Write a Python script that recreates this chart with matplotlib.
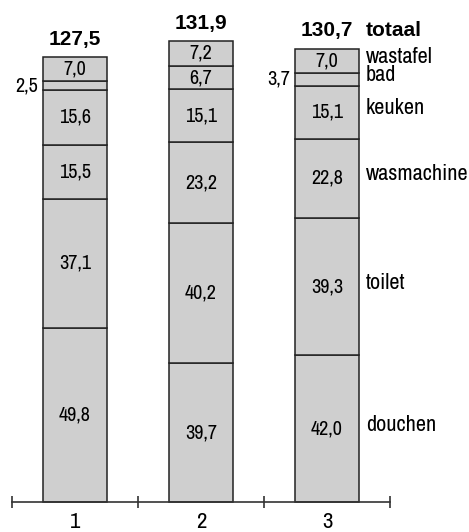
import numpy as np
import matplotlib.pyplot as plt

# data (values per huishouden, liters per persoon per dag)
groups = ['1', '2', '3']
categories = ['douchen', 'toilet', 'wasmachine', 'keuken', 'bad', 'wastafel']
douchen = [49.8, 39.7, 42.0]
toilet = [37.1, 40.2, 39.3]
wasmachine = [15.5, 23.2, 22.8]
keuken = [15.6, 15.1, 15.1]
bad = [2.5, 6.7, 3.7]
wastafel = [7.0, 7.2, 7.0]
totals = ['127,5', '131,9', '130,7']

series = [douchen, toilet, wasmachine, keuken, bad, wastafel]

plt.rcParams['font.family'] = ['Archivo Narrow', 'Liberation Sans', 'DejaVu Sans']
bold_font = ['Liberation Sans', 'DejaVu Sans']

fig = plt.figure(figsize=(4.69, 5.32), dpi=100)
ax = fig.add_axes([0, 0, 1, 1])

x = np.arange(1, len(groups) + 1)
width = 0.51
bottom = np.zeros(len(groups))
for cat, vals in zip(categories, series):
    vals = np.array(vals)
    ax.bar(x, vals, width, bottom=bottom, color='#cfcfcf',
           edgecolor='#222222', linewidth=1.1)
    for i in range(len(groups)):
        mid = bottom[i] + vals[i] / 2
        txt = f'{vals[i]:.1f}'.replace('.', ',')
        if vals[i] < 5:
            # small segment: label at the left of the bar
            ax.text(x[i] - width / 2 - 0.04, mid, txt, ha='right', va='center',
                    fontsize=14.5)
        else:
            ax.text(x[i], mid, txt, ha='center', va='center', fontsize=14.5)
    # category label next to the last bar
    ax.annotate(cat, (x[-1] + width / 2, bottom[-1] + vals[-1] / 2),
                xytext=(5, 3), textcoords='offset points',
                ha='left', va='center', fontsize=16)
    bottom = bottom + vals

for i in range(len(groups)):
    ax.annotate(totals[i], (x[i], bottom[i]), xytext=(0, 6),
                textcoords='offset points', ha='center', va='bottom',
                fontsize=15, fontweight='bold', family=bold_font)
ax.annotate('totaal', (x[-1] + width / 2, bottom[-1]), xytext=(5, 6),
            textcoords='offset points', ha='left', va='bottom',
            fontsize=15, fontweight='bold', family=bold_font)

ax.set_xlim(0.405, 4.127)
ax.set_ylim(-8.6, 143.8)
for s in ['top', 'left', 'right']:
    ax.spines[s].set_visible(False)
ax.spines['bottom'].set_position(('data', 0))
ax.spines['bottom'].set_bounds(0.5, 3.5)
ax.spines['bottom'].set_color('#333333')
ax.spines['bottom'].set_linewidth(1.2)
ax.set_yticks([])
ax.set_xticks([0.5, 1.5, 2.5, 3.5])
ax.set_xticklabels([])
ax.tick_params(axis='x', which='major', direction='inout', length=8,
               width=1.2, color='#333333')
ax.set_xticks(x, minor=True)
ax.set_xticklabels(groups, minor=True, fontsize=16.5)
ax.tick_params(axis='x', which='minor', length=0, pad=7)

fig.savefig('out.png', dpi=100)
